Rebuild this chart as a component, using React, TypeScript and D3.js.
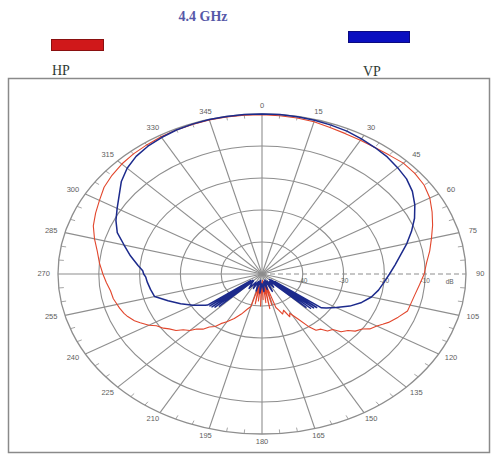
import React, { useEffect, useRef } from "react";
import * as d3 from "d3";

// polar grid, dB rings and 15 degree spokes
const ringLevels = [-40, -30, -20, -10, 0];
const ringLabels = ["-40", "-30", "-20", "-10"];
const spokeAngles = [0, 15, 30, 45, 60, 75, 90, 105, 120, 135, 150, 165, 180, 195, 210, 225, 240, 255, 270, 285, 300, 315, 330, 345];
const spokeLabels = ["0", "15", "30", "45", "60", "75", "90", "105", "120", "135", "150", "165", "180", "195", "210", "225", "240", "255", "270", "285", "300", "315", "330", "345"];

// VP (vertical polarisation), angle in degrees and relative gain in dB
const vpAngles = [0, 5, 10, 15, 20, 25, 30, 35, 40, 45, 50, 55, 60, 65, 70, 75, 80, 85, 90, 95, 100, 105, 110, 115, 120, 124, 126,
  127, 128, 129, 130, 131, 132, 133, 134, 136, 138, 141, 145, 150, 155, 160, 165, 170, 175, 180, 185, 190, 195, 200, 205, 210, 215,
  220, 224, 226, 227, 228, 229, 230, 231, 232, 233, 234, 235, 240, 245, 250, 255, 260, 265, 268, 270, 272, 275, 280, 285, 290, 295,
  300, 305, 310, 315, 320, 325, 330, 335, 340, 345, 350, 355];
const vpGain = [0, 0, -0.1, -0.25, -0.5, -0.75, -1.25, -1.75, -2.25, -3, -3.75, -5, -6.75, -8.75, -11, -13.25, -15.5, -17.25, -18.75, -20, -21, -22.25, -24, -26.25, -29, -31, -32,
  -46, -33, -47, -33.5, -45, -34, -47.5, -35, -44, -46, -47, -45, -47.5, -44, -48, -45, -47.5, -44.5, -47, -44, -48, -44.5, -47.5, -45, -47, -44.5,
  -46, -47, -35.5, -46, -34.5, -47, -34, -45, -33.8, -46.5, -33.5, -33, -30.5, -28, -25.5, -22.75, -22.25, -21.75, -21.5, -21, -20.75, -19.5, -17.25, -15, -12.25, -10.5,
  -9, -7.25, -5, -3.25, -2, -1.25, -0.75, -0.35, -0.15, 0, 0, 0];

// HP (horizontal polarisation)
const hpAngles = [0, 5, 10, 15, 20, 25, 30, 35, 40, 45, 50, 55, 60, 65, 70, 75, 80, 85, 90, 95, 100, 105, 108, 112, 116, 118, 120, 123, 125,
  128, 130, 133, 135, 138, 140, 143, 145, 148, 151, 153, 155, 158, 160, 162, 164, 166, 168, 170, 172, 174, 176, 178, 180, 182, 184, 186,
  188, 190, 192, 195, 198, 202, 206, 210, 213, 215, 218, 220, 223, 225, 228, 230, 233, 235, 238, 240, 243, 245, 248, 250, 253, 255, 258,
  262, 266, 270, 275, 280, 285, 290, 295, 300, 305, 310, 315, 320, 325, 330, 335, 340, 345, 350, 355];
const hpGain = [-0.25, -0.35, -0.5, -0.75, -1.25, -1.6, -1.75, -1.75, -1.5, -1, -1.1, -1.5, -2.5, -4, -5.5, -7, -8.25, -9.5, -10.25, -11.25, -12, -12.4, -12.5, -14, -15.5, -16.5, -17.5, -18.5, -20,
  -21, -22.5, -23.5, -25.5, -26, -27.5, -28, -29.75, -33.5, -36, -35, -37.5, -36.5, -38, -39, -47, -40, -47.5, -39, -46.5, -41, -48, -42, -47, -40, -47.5, -41.5,
  -46.5, -40.5, -46, -39.5, -38.5, -36.5, -34.5, -32.75, -31.5, -30, -29, -27.5, -26.5, -25, -24, -22.5, -21.5, -20.5, -19.5, -18, -16.5, -15.5, -14.5, -14, -13.5, -13.25, -12.75,
  -12.5, -11.75, -11, -10, -9, -7.5, -6, -5, -4, -2.75, -2, -1.4, -1, -0.75, -0.5, -0.35, -0.25, -0.15, -0.15, -0.2];

const cx = 262;
const cy = 274;
const RX = 204;
const RY = 160;

export default function App() {
  const ref = useRef<SVGSVGElement>(null);

  useEffect(() => {
    const svg = d3.select(ref.current);
    svg.selectAll("*").remove();

    const level = d3.scaleLinear().domain([-50, 0]).range([0, 1]).clamp(true);
    const rad = (deg: number) => (deg * Math.PI) / 180;
    const px = (deg: number, r: number) => cx + RX * r * Math.sin(rad(deg));
    const py = (deg: number, r: number) => cy - RY * r * Math.cos(rad(deg));

    // frame
    svg.append("rect")
      .attr("x", 8.5).attr("y", 78.5).attr("width", 481).attr("height", 374)
      .attr("fill", "none").attr("stroke", "#8a8a8a").attr("stroke-width", 1.5);

    // title + legend
    svg.append("text").attr("x", 203).attr("y", 21).attr("text-anchor", "middle")
      .attr("font-family", "Liberation Serif").attr("font-weight", "bold").attr("font-size", 14)
      .attr("fill", "#5658a8").text("4.4 GHz");
    svg.append("rect").attr("x", 51.5).attr("y", 39.5).attr("width", 52).attr("height", 11)
      .attr("fill", "#d0181a").attr("stroke", "#8a1010").attr("stroke-width", 1);
    svg.append("text").attr("x", 52).attr("y", 75)
      .attr("font-family", "Liberation Serif").attr("font-size", 14).attr("fill", "#2e3a34").text("HP");
    svg.append("rect").attr("x", 348.5).attr("y", 31.5).attr("width", 61).attr("height", 11)
      .attr("fill", "#0a0fc0").attr("stroke", "#0a0a80").attr("stroke-width", 1);
    svg.append("text").attr("x", 363).attr("y", 76)
      .attr("font-family", "Liberation Serif").attr("font-size", 14).attr("fill", "#2e3a34").text("VP");

    const grid = svg.append("g").attr("stroke", "#8e8e8e").attr("fill", "none");

    // rings
    grid.selectAll("ellipse").data(ringLevels).enter().append("ellipse")
      .attr("cx", cx).attr("cy", cy)
      .attr("rx", d => RX * level(d)).attr("ry", d => RY * level(d))
      .attr("stroke-width", d => (d === 0 ? 1.3 : 1.1));

    // spokes
    grid.selectAll("line.spoke").data(spokeAngles).enter().append("line")
      .attr("class", "spoke")
      .attr("x1", cx).attr("y1", cy)
      .attr("x2", d => px(d, 1)).attr("y2", d => py(d, 1))
      .attr("stroke-width", 1.1)
      .attr("stroke-dasharray", d => (d === 90 ? "5,3" : null));

    // minor ticks on the outer ring
    const minor = d3.range(0, 360, 5).filter(a => a % 15 !== 0);
    grid.selectAll("line.minor").data(minor).enter().append("line")
      .attr("class", "minor")
      .attr("x1", d => px(d, 1)).attr("y1", d => py(d, 1))
      .attr("x2", d => px(d, 0.975)).attr("y2", d => py(d, 0.975))
      .attr("stroke-width", 0.8);

    // angle labels
    svg.append("g").selectAll("text").data(spokeAngles).enter().append("text")
      .attr("x", d => px(d, 1.07)).attr("y", d => py(d, 1.05))
      .attr("text-anchor", "middle").attr("dominant-baseline", "middle")
      .attr("font-family", "Liberation Sans").attr("font-size", 7.5).attr("fill", "#5e5e5e")
      .text((d, i) => spokeLabels[i]);

    // radial labels along the 90 degree axis
    svg.append("g").selectAll("text").data(ringLabels).enter().append("text")
      .attr("x", (d, i) => px(90, level(ringLevels[i]))).attr("y", cy + 9)
      .attr("text-anchor", "middle")
      .attr("font-family", "Liberation Sans").attr("font-size", 6.5).attr("fill", "#5e5e5e")
      .text(d => d);
    svg.append("text").attr("x", px(90, 0.92)).attr("y", cy + 10).attr("text-anchor", "middle")
      .attr("font-family", "Liberation Sans").attr("font-size", 6.5).attr("fill", "#5e5e5e").text("dB");

    const line = d3.line<[number, number]>()
      .x(d => px(d[0], level(d[1])))
      .y(d => py(d[0], level(d[1])));

    const hp: [number, number][] = hpAngles.map((a, i) => [a, hpGain[i]]);
    const vp: [number, number][] = vpAngles.map((a, i) => [a, vpGain[i]]);
    hp.push(hp[0]);
    vp.push(vp[0]);

    svg.append("path").attr("d", line(hp)).attr("fill", "none")
      .attr("stroke", "#e2462c").attr("stroke-width", 1.1).attr("stroke-linejoin", "round");
    svg.append("path").attr("d", line(vp)).attr("fill", "none")
      .attr("stroke", "#1c2a8c").attr("stroke-width", 1.5).attr("stroke-linejoin", "round");
  }, []);

  return (
    <div style={{ position: "absolute", left: 0, top: 0 }}>
      <svg ref={ref} width={492} height={458} style={{ display: "block", background: "#fff" }} />
    </div>
  );
}
